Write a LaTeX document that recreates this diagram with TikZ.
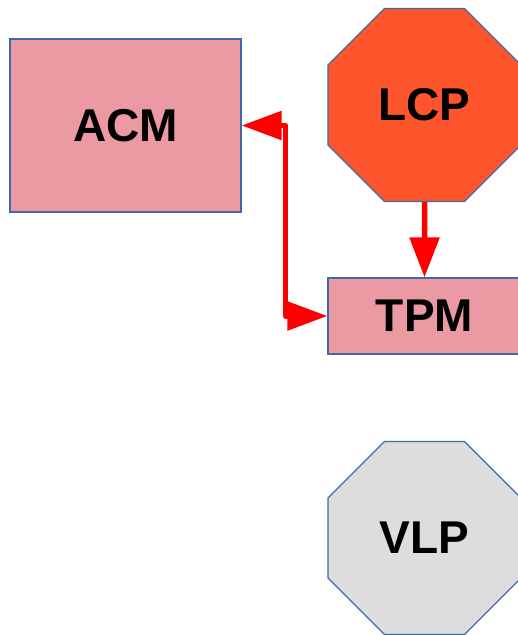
\documentclass[tikz,border=0pt]{standalone}
\usepackage{fontspec}
\setmainfont{Liberation Sans}
\usetikzlibrary{shapes.geometric,arrows.meta}
\definecolor{pinkfill}{HTML}{EB9AA3}
\definecolor{orangefill}{HTML}{FF552D}
\definecolor{grayfill}{HTML}{DDDDDD}
\definecolor{edgeblue}{HTML}{3E6BA8}
\tikzset{
  box/.style={draw=edgeblue, line width=1.3pt, fill=pinkfill, rectangle, inner sep=0pt,
              font=\fontsize{46}{46}\selectfont\bfseries},
  octa/.style={draw=edgeblue, line width=1.3pt, regular polygon, regular polygon sides=8,
              minimum size=209pt, inner sep=0pt, font=\fontsize{46}{46}\selectfont\bfseries},
  conn/.style={draw=red, line width=5.5pt},
  tip/.style={-{Triangle[length=40pt,width=29pt]}},
  tips/.style={{Triangle[length=40pt,width=28pt]}-{Triangle[length=40pt,width=28pt]}}
}
\begin{document}
\begin{tikzpicture}[x=1pt,y=-1pt]
\useasboundingbox (0,0) rectangle (518,635);
\begin{scope}
\clip (0,0) rectangle (518,635);
\node[box, minimum width=231pt, minimum height=173pt] (acm) at (125.5,125.5) {ACM};
\node[octa, fill=orangefill] (lcp) at (424.5,105) {LCP};
\node[box, minimum width=193pt, minimum height=76pt] (tpm) at (424.5,316) {TPM};
\node[octa, fill=grayfill] (vlp) at (424.5,538) {VLP};
\draw[conn, tip] (lcp.south) -- (tpm.north);
\draw[conn, tips, line join=round] (acm.east) -- ++(44,0) |- (tpm.west);
\end{scope}
\end{tikzpicture}
\end{document}
